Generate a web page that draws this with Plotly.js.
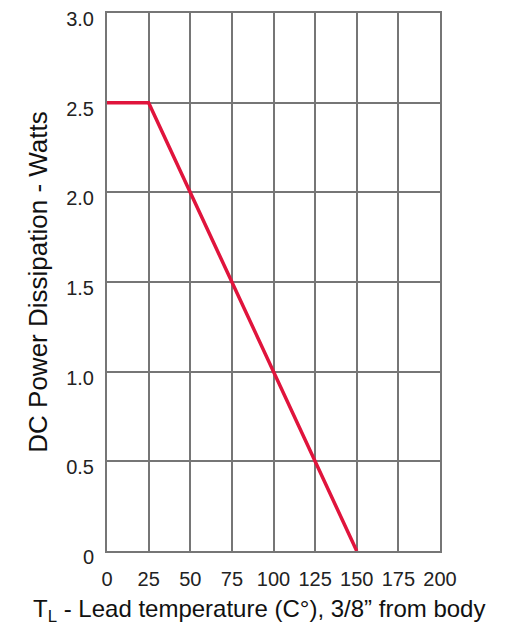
<!DOCTYPE html>
<html>
<head>
<meta charset="utf-8">
<script src="https://cdn.plot.ly/plotly-3.0.1.min.js"></script>
<style>html,body{margin:0;padding:0;background:#fff;}#chart{width:515px;height:625px;}</style>
</head>
<body>
<div id="chart"></div>
<script>
const leadTemp = [0, 25, 150];
const powerW = [2.5, 2.5, 0];
const xTicks = [0, 25, 50, 75, 100, 125, 150, 175, 200];
const xTickText = ['0', '25', '50', '75', '100', '125', '150', '175', '200'];
const yTicks = [0, 0.5, 1.0, 1.5, 2.0, 2.5, 3.0];
const yTickText = ['0', '0.5', '1.0', '1.5', '2.0', '2.5', '3.0'];
const xTitle = 'T<sub>L</sub> - Lead temperature (C°), 3/8” from body';
const yTitle = 'DC Power Dissipation - Watts';

const gridColor = '#767676';
Plotly.newPlot('chart', [{
  x: leadTemp, y: powerW, mode: 'lines', type: 'scatter',
  line: {color: '#e0143c', width: 3.5}, hoverinfo: 'skip'
}], {
  width: 515, height: 625,
  margin: {l: 107, r: 75, t: 13, b: 74},
  paper_bgcolor: '#fff', plot_bgcolor: '#fff',
  font: {family: 'Liberation Sans, Arial, sans-serif', color: '#222', size: 20},
  showlegend: false,
  xaxis: {
    range: [0, 200], tickvals: xTicks, ticktext: xTickText,
    showgrid: true, gridcolor: gridColor, gridwidth: 2,
    showline: true, linecolor: gridColor, linewidth: 2, mirror: true,
    zeroline: false, ticks: '', ticklabelstandoff: 9,
    tickfont: {size: 20, color: '#222'}
  },
  yaxis: {
    range: [0, 3], tickvals: yTicks, ticktext: yTickText,
    showgrid: true, gridcolor: gridColor, gridwidth: 2,
    showline: true, linecolor: gridColor, linewidth: 2, mirror: true,
    zeroline: false, ticks: '', ticklabelstandoff: 7, ticklabelshift: 6,
    ticklabeloverflow: 'allow',
    tickfont: {size: 20, color: '#222'},
    title: {text: yTitle, font: {size: 26, color: '#111'}, standoff: 11}
  },
  annotations: [{
    text: xTitle, xref: 'paper', yref: 'paper', x: 0.455, y: 0,
    xanchor: 'center', yanchor: 'top', yshift: -42, showarrow: false,
    font: {size: 24, color: '#111'}
  }]
}, {staticPlot: true});
</script>
</body>
</html>
